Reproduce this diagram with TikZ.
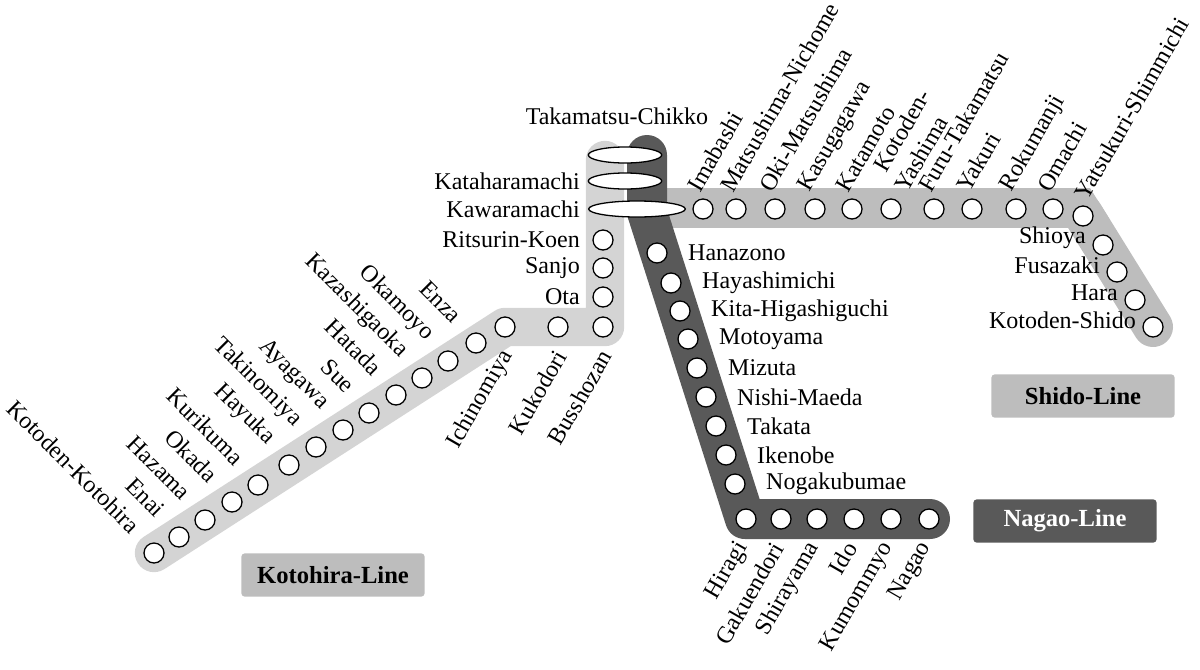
\documentclass[tikz,border=0pt]{standalone}
\usepackage{fontspec}
\setmainfont{Liberation Serif}
\usetikzlibrary{shapes.geometric,calc}
\definecolor{lightb}{HTML}{D4D4D4}
\definecolor{midb}{HTML}{BDBDBD}
\definecolor{darkb}{HTML}{595959}
\tikzset{
 st/.style={circle,draw=black,fill=white,line width=1.1pt,minimum size=0.6cm,inner sep=0pt},
 ov/.style={ellipse,draw=black,fill=white,line width=1.1pt,minimum height=0.48cm,inner sep=0pt},
 lbl/.style={font=\fontsize{20.5}{22}\selectfont,inner sep=0pt},
 band/.style={line width=1.2cm,line cap=round,line join=round},
 legend/.style={rounded corners=3pt,minimum width=5.5cm,minimum height=1.3cm,font=\bfseries\fontsize{21}{23}\selectfont}
}
\begin{document}
\begin{tikzpicture}[x=0.03cm,y=0.03cm]
\useasboundingbox (0,0) rectangle (1200,-669);
% bands
\draw[band,lightb,line width=1.15cm] (605,-160) -- (605,-327) -- (505,-327) -- (154,-553);
\draw[band,midb,line cap=butt,line join=miter] (640,-208) -- (1083,-208);
\draw[band,midb] (1083,-214) -- (1153,-327);
\fill[midb] (1060,-188) -- (1090,-188) -- (1110,-220) -- (1060,-228) -- cycle;
\draw[band,darkb] (647,-155) -- (647,-212) -- (745,-519) -- (930,-519);
% Kotohira
\foreach \n/\x/\y/\t in {k1/154/553/Kotoden-Kotohira,k2/179/537/Enai,k3/205/520/Hazama,k4/232/502/Okada,k5/258/485/Kurikuma,k6/289/465/Hayuka,k7/316/447/Takinomiya,k8/343/430/Ayagawa,k9/369/413/Sue,k10/396/395/Hatada,k11/422/378/Kazashigaoka,k12/448/361/Okamoyo,k13/476/343/Enza}{
 \node[st] (\n) at (\x,-\y) {};
 \node[lbl,anchor=east,rotate=-45] (\n l) at ($(\x,-\y)+(-18,24)$) {\t};
}
\foreach \n/\x/\t in {k14/505/Ichinomiya,k15/558/Kukodori,k16/603/Busshozan}{
 \node[st] (\n) at (\x,-327) {};
 \node[lbl,anchor=east,rotate=60] (\n l) at (\x+3,-352) {\t};
}
\foreach \n/\y/\t in {k17/297/Ota,k18/268/Sanjo,k19/240/Ritsurin-Koen}{
 \node[st] (\n) at (603,-\y) {};
 \node[lbl,anchor=east] (\n l) at (580,-\y) {\t};
}
\node[ov,minimum width=2.9cm] (kawa) at (637,-209) {};
\node[ov,minimum width=2.2cm] (kata) at (625,-181) {};
\node[ov,minimum width=2.2cm] (chik) at (625,-155) {};
\node[lbl,anchor=east] (kawal) at (580,-209) {Kawaramachi};
\node[lbl,anchor=east] (katal) at (580,-181) {Kataharamachi};
\node[lbl] (chikl) at (617,-116) {Takamatsu-Chikko};
% Shido
\foreach \n/\x/\t in {s1/703/Imabashi,s2/736/Matsushima-Nichome,s3/775/Oki-Matsushima,s4/815/Kasugagawa,s5/852/Katamoto,s7/934/Furu-Takamatsu,s8/972/Yakuri,s9/1016/Rokumanji,s10/1053/Omachi}{
 \node[st] (\n) at (\x,-209) {};
 \node[lbl,anchor=west,rotate=60] (\n l) at (\x-10,-190) {\t};
}
\node[st] (s6) at (891,-209) {};
\node[lbl,anchor=west,rotate=60] (s6a) at (879,-170) {Kotoden-};
\node[lbl,anchor=west,rotate=60] (s6b) at (900,-190) {Yashima};
\node[st] (s11) at (1083,-216) {};
\node[lbl,anchor=west,rotate=60] (s11l) at (1080,-198) {Yatsukuri-Shimmichi};
\foreach \n/\x/\y/\t in {s12/1103/245/Shioya,s13/1117/272/Fusazaki,s14/1135/300/Hara,s15/1153/327/Kotoden-Shido}{
 \node[st] (\n) at (\x,-\y) {};
 \node[lbl,anchor=east] (\n l) at (\x-17,-\y+7) {\t};
}
% Nagao
\foreach \n/\x/\y/\t in {n1/657/253/Hanazono,n2/671/283/Hayashimichi,n3/680/311/Kita-Higashiguchi,n4/688/339/Motoyama,n5/697/368/Mizuta,n6/706/397/Nishi-Maeda,n7/716/426/Takata,n8/726/455/Ikenobe,n9/735/484/Nogakubumae}{
 \node[st] (\n) at (\x,-\y) {};
 \node[lbl,anchor=west] (\n l) at (\x+31,-\y) {\t};
}
\foreach \n/\x/\t in {n10/746/Hiragi,n11/781/Gakuendori,n12/817/Shirayama,n13/854/Ido,n14/891/Kumommyo,n15/929/Nagao}{
 \node[st] (\n) at (\x,-519) {};
 \node[lbl,anchor=east,rotate=60] (\n l) at (\x-3,-544) {\t};
}
% legends
\node[legend,fill=midb] (kl) at (333,-575) {Kotohira-Line};
\node[legend,fill=darkb,text=white] (nl) at (1065,-521) {Nagao-Line};
\node[legend,fill=midb] (sl) at (1083,-396) {Shido-Line};
\end{tikzpicture}
\end{document}
